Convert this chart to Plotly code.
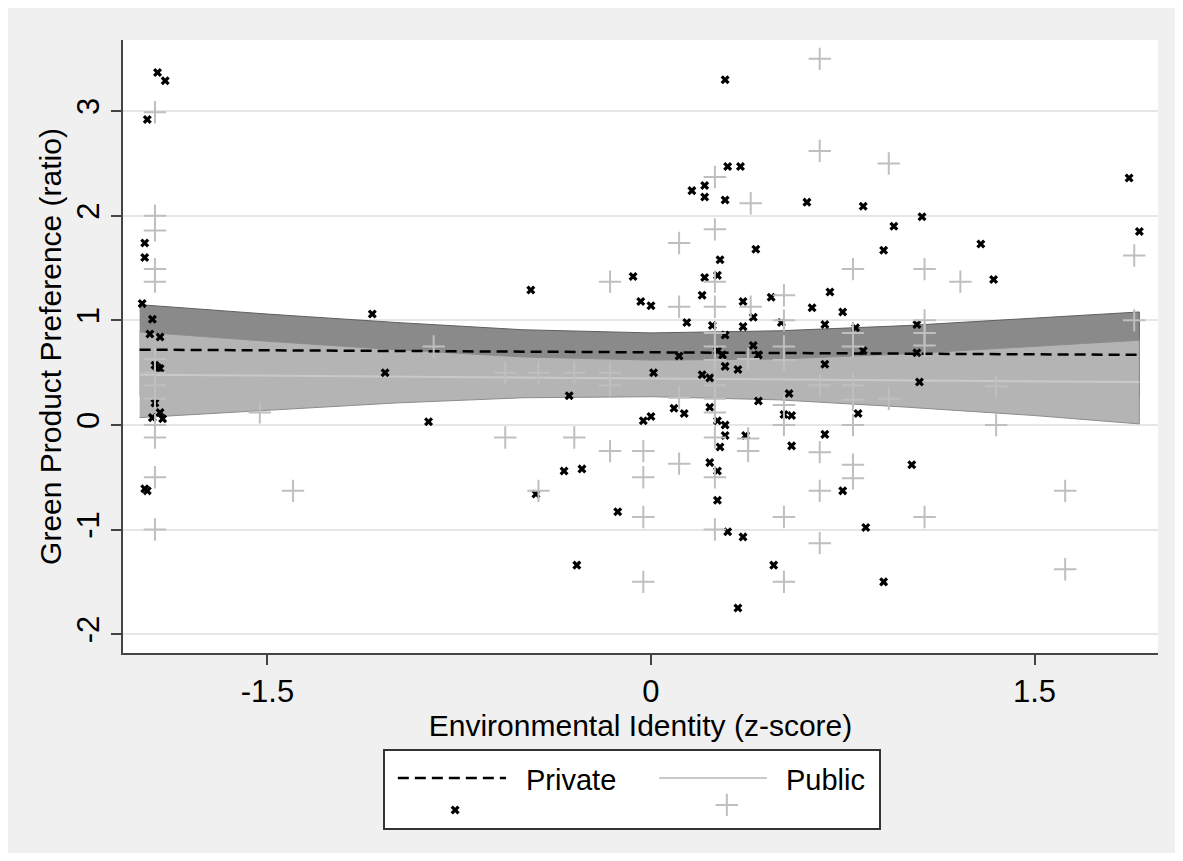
import plotly.graph_objects as go

# ---------------- data ----------------
private_x = [-1.93, -1.90, -1.97, -1.98, -1.98, -1.99, -1.95, -1.96, -1.92, -1.94, -1.92, -1.93,
             -1.94, -1.92, -1.91, -1.95, -1.98, -1.97,
             -1.09, -1.04, -0.87, -0.47, -0.45, -0.32, -0.34, -0.27, -0.29, -0.13,
             0.29, 0.30, 0.35, 0.16, 0.21, 0.21, 0.29, 0.41, 0.27, 0.26, 0.21, -0.07, 0.20, -0.04,
             0.00, 0.36, 0.40, 0.14, 0.24, 0.29, 0.36, 0.40, 0.11, 0.26, 0.28, 0.29, 0.34, 0.01,
             0.20, 0.23, 0.42, 0.09, 0.13, -0.03, 0.00, 0.23, 0.26, 0.29, 0.29, 0.37, 0.27, 0.23,
             0.26, 0.26, 0.30, 0.36, 0.34,
             1.87, 0.61, 0.83, 1.06, 0.95, 1.91, 0.91, 1.29, 1.34, 0.47, 0.70, 0.63, 0.75, 0.68,
             0.80, 1.04, 0.51, 0.42, 0.83, 1.04, 0.68, 1.05, 0.54, 0.55, 0.52, 0.81, 0.68, 0.55,
             1.02, 0.75, 0.84, 0.48, 0.91]
private_y = [3.37, 3.29, 2.92, 1.74, 1.60, 1.16, 1.01, 0.87, 0.84, 0.57, 0.54, 0.55,
             0.21, 0.12, 0.06, 0.07, -0.61, -0.63,
             1.06, 0.50, 0.03, 1.29, -0.66, 0.28, -0.44, -0.42, -1.34, -0.83,
             3.30, 2.47, 2.47, 2.24, 2.29, 2.18, 2.15, 1.68, 1.58, 1.43, 1.41, 1.42, 1.24, 1.18,
             1.14, 1.18, 1.03, 0.98, 0.95, 0.86, 0.94, 0.76, 0.66, 0.71, 0.67, 0.56, 0.53, 0.50,
             0.48, 0.45, 0.23, 0.16, 0.11, 0.04, 0.08, 0.17, 0.04, 0.00, -0.10, -0.10, -0.21, -0.36,
             -0.44, -0.72, -1.02, -1.07, -1.75,
             2.36, 2.13, 2.09, 1.99, 1.90, 1.85, 1.67, 1.73, 1.39, 1.22, 1.27, 1.12, 1.08, 0.96,
             0.93, 0.96, 0.98, 0.67, 0.71, 0.69, 0.58, 0.41, 0.30, 0.09, 0.10, 0.11, -0.09, -0.20,
             -0.38, -0.63, -0.98, -1.34, -1.50]

public_x = [-1.94, -1.94, -1.94, -1.94, -1.94, -1.94, -1.94, -1.94, -1.94, -1.94, -1.94, -1.94,
            -1.94, -1.53, -1.40,
            -0.85, -0.57, -0.57, -0.44, -0.30, -0.16, -0.16, -0.30, -0.44, -0.16, -0.03, -0.03,
            -0.03, -0.03, -0.16,
            0.11, 0.11, 0.25, 0.25, 0.25, 0.25, 0.25, 0.25, 0.25, 0.25, 0.25, 0.38, 0.38, 0.38,
            0.25, 0.39, 0.25, 0.11, 0.25, 0.11, 0.25, 0.39, 0.52, 0.52, 0.52, 0.52, 0.52, 0.52,
            0.52, 0.52,
            0.66, 0.66, 0.93, 0.79, 1.07, 1.21, 1.89, 1.07, 1.89, 0.79, 1.07, 0.79, 1.07, 0.66,
            0.79, 0.79, 0.93, 1.35, 0.79, 1.35, 0.66, 0.79, 0.79, 0.66, 1.62, 1.07, 0.66, 1.62]
public_y = [2.99, 2.00, 1.86, 1.49, 1.37, 0.63, 0.50, 0.38, 0.25, 0.00, -0.12, -0.50,
            -1.00, 0.12, -0.63,
            0.75, 0.50, -0.12, 0.50, 0.50, 0.50, 0.38, -0.12, -0.63, -0.25, -0.25, -0.50,
            -0.88, -1.50, 1.37,
            0.26, -0.37, 0.88, 0.75, 0.62, 0.38, 0.25, 0.12, -0.12, -0.50, -1.00, 0.63, -0.13, -0.25,
            2.37, 2.12, 1.87, 1.74, 1.37, 1.13, 1.13, 1.13, 1.24, 1.00, 0.75, 0.62, 0.19, 0.00,
            -0.88, -1.50,
            3.50, 2.62, 2.50, 1.49, 1.49, 1.37, 1.62, 1.00, 1.00, 0.88, 0.88, 0.75, 0.76, 0.38,
            0.38, 0.24, 0.25, 0.37, 0.00, 0.00, -0.26, -0.38, -0.51, -0.63, -0.63, -0.88, -1.13, -1.38]

# fitted lines and 95% confidence bands, read at a grid of x values
fit_x = [-2.0, -1.5, -1.0, -0.5, 0.0, 0.5, 1.0, 1.5, 1.91]
private_fit = [0.72, 0.714, 0.707, 0.701, 0.694, 0.688, 0.681, 0.675, 0.67]
private_hi = [1.15, 1.06, 0.98, 0.91, 0.88, 0.90, 0.95, 1.02, 1.08]
private_lo = [0.29, 0.37, 0.44, 0.49, 0.51, 0.48, 0.41, 0.33, 0.26]
public_fit = [0.48, 0.471, 0.462, 0.453, 0.444, 0.435, 0.426, 0.417, 0.41]
public_hi = [0.89, 0.80, 0.72, 0.65, 0.62, 0.63, 0.68, 0.75, 0.81]
public_lo = [0.07, 0.14, 0.21, 0.26, 0.27, 0.24, 0.17, 0.09, 0.01]

x_ticks = [-1.5, 0, 1.5]
x_tick_labels = ["-1.5", "0", "1.5"]
y_ticks = [-2, -1, 0, 1, 2, 3]
y_tick_labels = ["-2", "-1", "0", "1", "2", "3"]

FONT = "Liberation Sans, Arial, Helvetica, sans-serif"
# the page body adds an 8px margin around the figure
OFF = 8
W, H = 1167, 845
PLOT_L, PLOT_R, PLOT_T, PLOT_B = 123 - OFF, 1158 - OFF, 40 - OFF, 653 - OFF
ML, MR, MT, MB = PLOT_L, W - PLOT_R, PLOT_T, 12
inner_w = W - ML - MR
inner_h = H - MT - MB


def px_x(p):
    return (p - OFF - ML) / inner_w


def px_y(p):
    return (H - MB - (p - OFF)) / inner_h


fig = go.Figure()

# confidence bands
fig.add_trace(go.Scatter(x=fit_x + fit_x[::-1], y=private_hi + private_lo[::-1],
                         fill="toself", fillcolor="#8a8a8a", mode="lines",
                         line=dict(color="#5f5f5f", width=1), hoverinfo="skip", showlegend=False))
fig.add_trace(go.Scatter(x=fit_x + fit_x[::-1], y=public_hi + public_lo[::-1],
                         fill="toself", fillcolor="#b4b4b4", mode="lines",
                         line=dict(color="#8c8c8c", width=1), hoverinfo="skip", showlegend=False))
# fit lines
fig.add_trace(go.Scatter(x=fit_x, y=private_fit, mode="lines",
                         line=dict(color="black", width=2.5, dash="11px,6px"), showlegend=False))
fig.add_trace(go.Scatter(x=fit_x, y=public_fit, mode="lines",
                         line=dict(color="#c9c9c9", width=2), showlegend=False))
# scatter points
fig.add_trace(go.Scatter(x=private_x, y=private_y, mode="markers",
                         marker=dict(symbol="x", size=8, color="black", line=dict(width=0)),
                         showlegend=False))
fig.add_trace(go.Scatter(x=public_x, y=public_y, mode="markers",
                         marker=dict(symbol="cross-thin", size=16, color="#bfbfbf",
                                     line=dict(width=2, color="#bfbfbf")),
                         showlegend=False))

# ---- legend drawn in its own small axes ----
fig.add_trace(go.Scatter(x=[0.026, 0.245], y=[0.65, 0.65], xaxis="x2", yaxis="y2", mode="lines",
                         line=dict(color="black", width=2.5, dash="11px,6px"), showlegend=False))
fig.add_trace(go.Scatter(x=[0.555, 0.773], y=[0.65, 0.65], xaxis="x2", yaxis="y2", mode="lines",
                         line=dict(color="#c9c9c9", width=2), showlegend=False))
fig.add_trace(go.Scatter(x=[0.142], y=[0.234], xaxis="x2", yaxis="y2", mode="markers",
                         marker=dict(symbol="x", size=8, color="black", line=dict(width=0)),
                         showlegend=False))
fig.add_trace(go.Scatter(x=[0.692], y=[0.30], xaxis="x2", yaxis="y2", mode="markers",
                         marker=dict(symbol="cross-thin", size=16, color="#bfbfbf",
                                     line=dict(width=2, color="#bfbfbf")),
                         showlegend=False))

y_dom0 = px_y(653)
leg_x0, leg_x1 = px_x(385), px_x(879)
leg_y0, leg_y1 = px_y(828), px_y(751)

fig.update_layout(
    width=W, height=H,
    margin=dict(l=ML, r=MR, t=MT, b=MB),
    paper_bgcolor="#f0f0f0",
    plot_bgcolor="white",
    font=dict(family=FONT, color="black", size=30),
    xaxis=dict(range=[-2.065, 1.983], domain=[0, 1], anchor="y",
               tickvals=x_ticks, ticktext=x_tick_labels,
               showgrid=False, zeroline=False,
               showline=True, linecolor="#444444", linewidth=2,
               ticks="outside", ticklen=10, tickwidth=2, tickcolor="#444444",
               tickfont=dict(size=31),
               title=dict(text="Environmental Identity (z-score)", font=dict(size=30), standoff=0)),
    yaxis=dict(range=[-2.18, 3.68], domain=[y_dom0, 1], anchor="x",
               tickvals=y_ticks, ticktext=y_tick_labels, tickangle=-90,
               showgrid=True, gridcolor="#e6e6e6", gridwidth=2, zeroline=False,
               showline=True, linecolor="#444444", linewidth=2,
               ticks="outside", ticklen=10, tickwidth=2, tickcolor="#444444",
               tickfont=dict(size=31),
               title=dict(text="Green Product Preference (ratio)", font=dict(size=30), standoff=0)),
    xaxis2=dict(domain=[leg_x0, leg_x1], anchor="y2", range=[0, 1],
                showgrid=False, zeroline=False, showticklabels=False, ticks="",
                showline=True, mirror=True, linecolor="#333333", linewidth=1.5),
    yaxis2=dict(domain=[leg_y0, leg_y1], anchor="x2", range=[0, 1],
                showgrid=False, zeroline=False, showticklabels=False, ticks="",
                showline=True, mirror=True, linecolor="#333333", linewidth=1.5),
    annotations=[
        dict(x=0.281, y=0.62, xref="x2", yref="y2", text="Private", showarrow=False,
             xanchor="left", yanchor="middle", font=dict(size=29)),
        dict(x=0.808, y=0.62, xref="x2", yref="y2", text="Public", showarrow=False,
             xanchor="left", yanchor="middle", font=dict(size=29)),
    ],
)

fig.write_html("out.html")
